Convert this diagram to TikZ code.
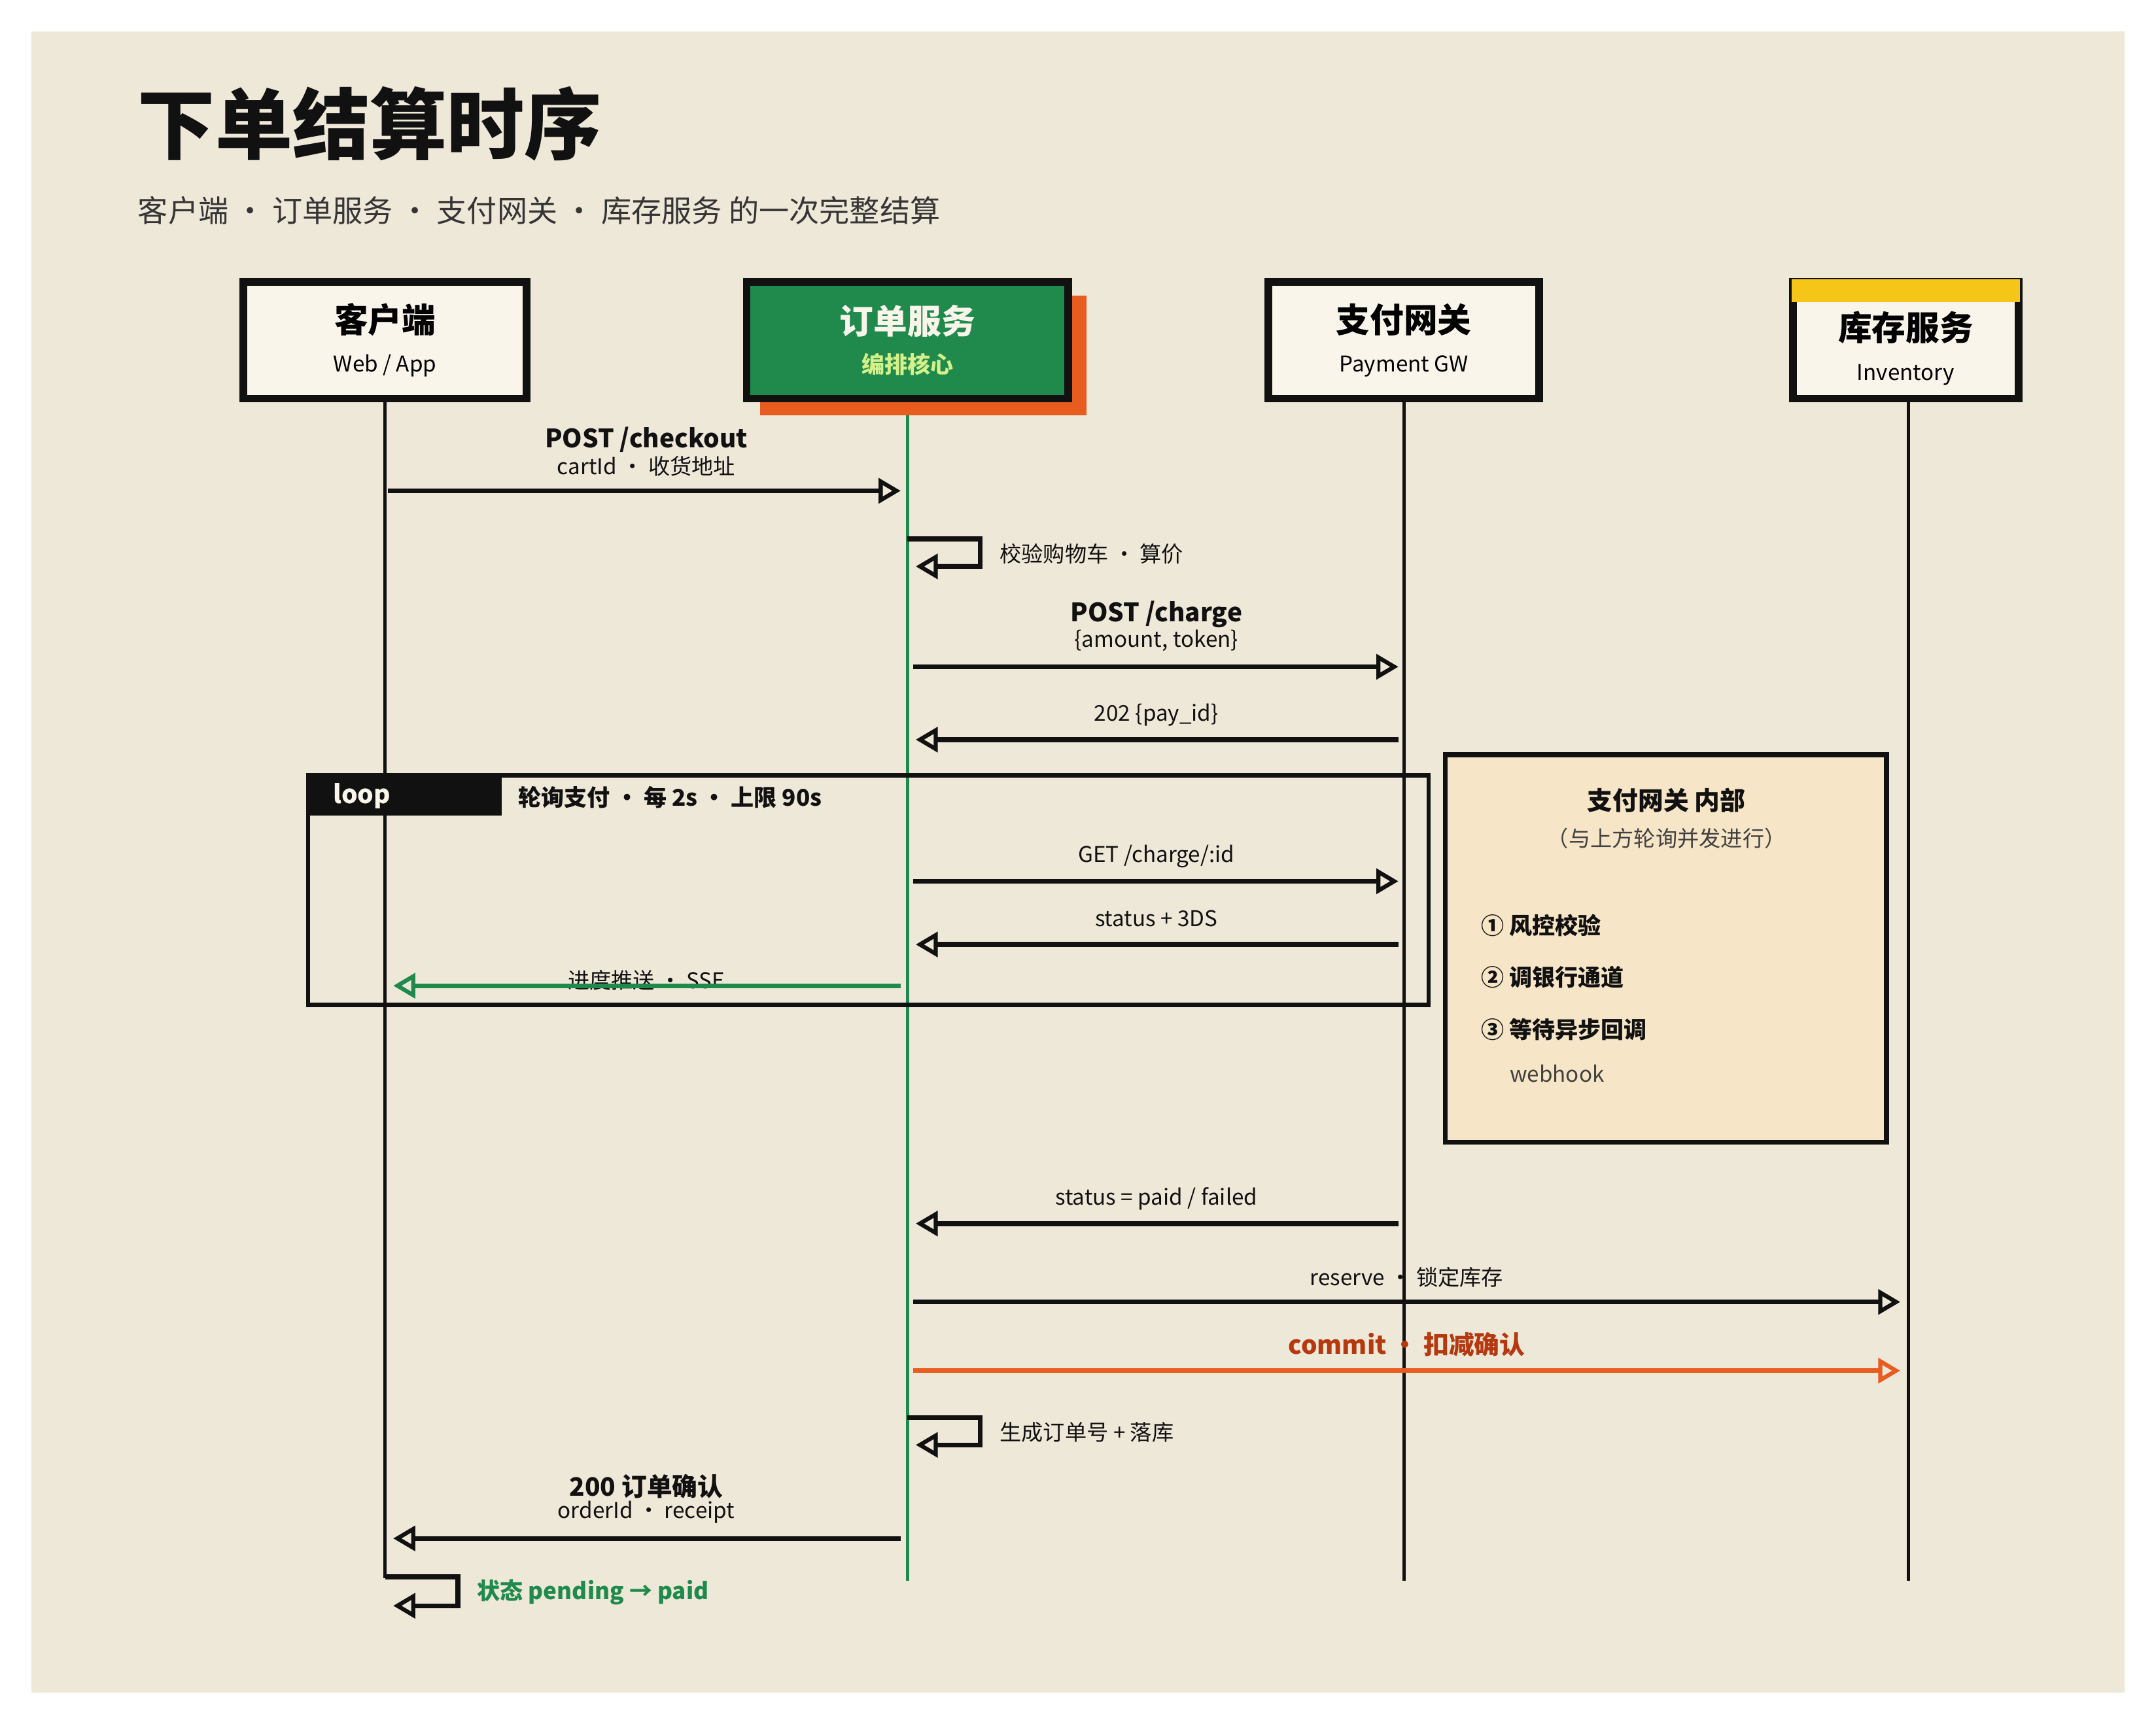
\documentclass[tikz,border=0pt]{standalone}
\usepackage{fontspec}
\setmainfont{Noto Sans CJK SC}
\usepackage{xcolor}
\usetikzlibrary{arrows.meta,positioning}

\definecolor{paper}{HTML}{EEE8D8}
\definecolor{card}{HTML}{FAF5EA}
\definecolor{ink}{HTML}{111111}
\definecolor{core}{HTML}{1F8A4C}
\definecolor{hot}{HTML}{E85C20}
\definecolor{gold}{HTML}{F5C518}
\definecolor{note}{HTML}{F6E5C6}
\definecolor{lime}{HTML}{D4F08A}
\definecolor{rust}{HTML}{B5380F}

\tikzset{
  actor/.style={draw=ink, line width=1.1mm, fill=card, align=center, inner sep=0pt},
  life/.style={draw=ink, line width=0.45mm},
  msg/.style={draw=ink, line width=0.7mm, -{Triangle[open,length=3.2mm,width=3.6mm,line width=0.6mm]}},
  lbl/.style={font=\fontsize{9}{10}\selectfont, text=ink, inner sep=1pt},
  blbl/.style={font=\fontsize{10.5}{12}\selectfont\bfseries, text=ink, inner sep=1pt},
}

\begin{document}
\begin{tikzpicture}[x=0.02cm,y=-0.02cm]
  \useasboundingbox (0,0) rectangle (1568,1254);
  \fill[white] (0,0) rectangle (1568,1254);
  \fill[paper] (23,23) rectangle (1545,1231);

  % title
  \node[anchor=west, font=\fontsize{32}{36}\selectfont\bfseries, text=ink, inner sep=0pt]
        (title) at (100,90) {下单结算时序};
  \node[anchor=west, font=\fontsize{12.5}{14}\selectfont, text=ink!85, inner sep=0pt]
        (sub) at (100,153) {客户端 ・ 订单服务 ・ 支付网关 ・ 库存服务 的一次完整结算};

  % actors
  \fill[hot] (553,215) rectangle (790,302);
  \node[actor, minimum width=41.2mm, minimum height=17mm] (cli) at (280,247.5)
        {{\fontsize{14}{16}\selectfont\bfseries 客户端}\\[1.5mm]{\fontsize{9}{10}\selectfont Web / App}};
  \node[actor, fill=core, text=card, minimum width=46.8mm, minimum height=17mm] (ord) at (660,247.5)
        {{\fontsize{14}{16}\selectfont\bfseries 订单服务}\\[1.5mm]{\fontsize{9.5}{10}\selectfont\bfseries\color{lime} 编排核心}};
  \node[actor, minimum width=39.4mm, minimum height=17mm] (pay) at (1021,247.5)
        {{\fontsize{14}{16}\selectfont\bfseries 支付网关}\\[1.5mm]{\fontsize{9}{10}\selectfont Payment GW}};
  \node[actor, minimum width=32.8mm, minimum height=17mm] (inv) at (1386,247.5)
        {\rule{0pt}{2mm}\\{\fontsize{14}{16}\selectfont\bfseries 库存服务}\\[1.5mm]{\fontsize{9}{10}\selectfont Inventory}};
  \fill[gold] (1303,203) rectangle (1469,220);

  % lifelines
  \coordinate (cliEnd) at (280,1148);
  \coordinate (ordEnd) at (660,1150);
  \coordinate (payEnd) at (1021,1150);
  \coordinate (invEnd) at (1388,1150);
  \draw[life] (cli.south) -- (cliEnd);
  \draw[life, draw=core] (ord.south |- 0,302) -- (ordEnd);
  \draw[life] (pay.south) -- (payEnd);
  \draw[life] (inv.south -| invEnd) -- (invEnd);

  % loop frame
  \draw[ink, line width=0.6mm] (224,564) rectangle (1039,731);
  \fill[ink] (224,564) rectangle (365,593);
  \node[anchor=west, text=card, font=\fontsize{10.5}{12}\selectfont\bfseries] (lp) at (236,579) {loop};
  \node[blbl, anchor=west, font=\fontsize{9.5}{11}\selectfont\bfseries] (lpt) at (375,580) {轮询支付 ・ 每 2s ・ 上限 90s};

  % gateway note
  \draw[ink, line width=0.7mm, fill=note] (1051,549) rectangle (1372,831);
  \node[blbl] (nt) at (1212,582) {支付网关 内部};
  \node[lbl, text=ink!80] (nt2) at (1212,610) {（与上方轮询并发进行）};
  \node[blbl, anchor=west, font=\fontsize{9.5}{11}\selectfont\bfseries] (s1) at (1075,673) {① 风控校验};
  \node[blbl, anchor=west, font=\fontsize{9.5}{11}\selectfont\bfseries] (s2) at (1075,711) {② 调银行通道};
  \node[blbl, anchor=west, font=\fontsize{9.5}{11}\selectfont\bfseries] (s3) at (1075,749) {③ 等待异步回调};
  \node[lbl, anchor=west, text=ink!80] (s4) at (1096,781) {webhook};

  % messages
  \draw[msg] (282,357) -- (655,357);
  \node[blbl] (m1a) at (470,320) {POST /checkout};
  \node[lbl] (m1b) at (470,339) {cartId ・ 收货地址};

  \draw[msg] (660,392) -- (713,392) -- (713,412) -- (666,412);
  \node[lbl, anchor=west] (m2) at (725,403) {校验购物车 ・ 算价};

  \draw[msg] (664,485) -- (1017,485);
  \node[blbl] (m3a) at (841,447) {POST /charge};
  \node[lbl] (m3b) at (841,466) {\{amount, token\}};

  \draw[msg] (1017,538) -- (666,538);
  \node[lbl] (m4) at (841,520) {202 \{pay\_id\}};

  \draw[msg] (664,641) -- (1017,641);
  \node[lbl] (m5) at (841,623) {GET /charge/:id};

  \draw[msg] (1017,687) -- (666,687);
  \node[lbl] (m6) at (841,668) {status + 3DS};

  \node[lbl] (m7) at (470,713) {进度推送 ・ SSE};
  \draw[msg, draw=core] (655,717) -- (286,717);

  \draw[msg] (1017,890) -- (666,890);
  \node[lbl] (m8) at (841,872) {status = paid / failed};

  \draw[msg] (664,947) -- (1382,947);
  \node[lbl] (m9) at (1023,929) {reserve ・ 锁定库存};

  \draw[msg, draw=hot] (664,997) -- (1382,997);
  \node[blbl, text=rust] (m10) at (1023,978) {commit ・ 扣减确认};

  \draw[msg] (660,1031) -- (713,1031) -- (713,1051) -- (666,1051);
  \node[lbl, anchor=west] (m11) at (725,1042) {生成订单号 + 落库};

  \draw[msg] (655,1119) -- (286,1119);
  \node[blbl] (m12a) at (470,1081) {200 订单确认};
  \node[lbl] (m12b) at (470,1100) {orderId ・ receipt};

  \draw[msg] (280,1147) -- (333,1147) -- (333,1168) -- (286,1168);
  \node[blbl, anchor=west, text=core, font=\fontsize{9.5}{11}\selectfont\bfseries] (m13) at (345,1158) {状态 pending → paid};
\end{tikzpicture}
\end{document}
